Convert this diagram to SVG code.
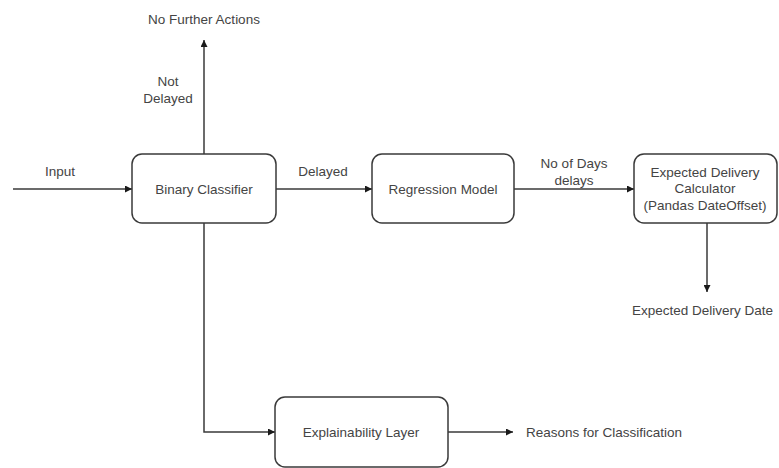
<svg xmlns="http://www.w3.org/2000/svg" width="779" height="468" viewBox="0 0 779 468">
<style>
.box{fill:#fff;stroke:#3a3a3a;stroke-width:1.5}
.t{font-family:"Liberation Sans",Arial,sans-serif;font-size:13.5px;fill:#444;text-anchor:middle;dominant-baseline:central}
.c{fill:none;stroke:#3a3a3a;stroke-width:1.5;marker-end:url(#ah)}
</style>
<defs>
<marker id="ah" viewBox="0 0 10 10" refX="10" refY="5" markerWidth="7" markerHeight="7" markerUnits="userSpaceOnUse" orient="auto">
<path d="M0,0 L10,5 L0,10 z" fill="#1a1a1a"/>
</marker>
</defs>
<rect width="779" height="468" fill="#fff"/>
<g id="connectors">
<path class="c" d="M13,189 H132"/>
<path class="c" d="M204,154 V40"/>
<path class="c" d="M276,189 H372"/>
<path class="c" d="M514,189 H634"/>
<path class="c" d="M707,223 V292"/>
<path class="c" d="M204,223 V432 H275"/>
<path class="c" d="M448,432 H513"/>
<text class="t" x="60" y="171">Input</text>
<text class="t" x="168" y="81">Not</text>
<text class="t" x="168" y="98">Delayed</text>
<text class="t" x="323" y="171">Delayed</text>
<text class="t" x="574" y="163">No of Days</text>
<text class="t" x="574" y="180">delays</text>
</g>
<g id="no-further-actions"><text class="t" x="204" y="19">No Further Actions</text></g>
<g id="binary-classifier">
<rect class="box" x="132" y="154" width="144" height="69" rx="10"/>
<text class="t" x="204" y="189">Binary Classifier</text>
</g>
<g id="regression-model">
<rect class="box" x="372" y="154" width="142" height="69" rx="10"/>
<text class="t" x="443" y="189">Regression Model</text>
</g>
<g id="expected-delivery-calculator">
<rect class="box" x="634" y="154" width="143" height="69" rx="10"/>
<text class="t" x="705" y="172">Expected Delivery</text>
<text class="t" x="705" y="188">Calculator</text>
<text class="t" x="705" y="205">(Pandas DateOffset)</text>
</g>
<g id="expected-delivery-date"><text class="t" x="632" y="310" style="text-anchor:start">Expected Delivery Date</text></g>
<g id="explainability-layer">
<rect class="box" x="275" y="397" width="173" height="70" rx="10"/>
<text class="t" x="361" y="432">Explainability Layer</text>
</g>
<g id="reasons"><text class="t" x="604" y="432">Reasons for Classification</text></g>
</svg>
